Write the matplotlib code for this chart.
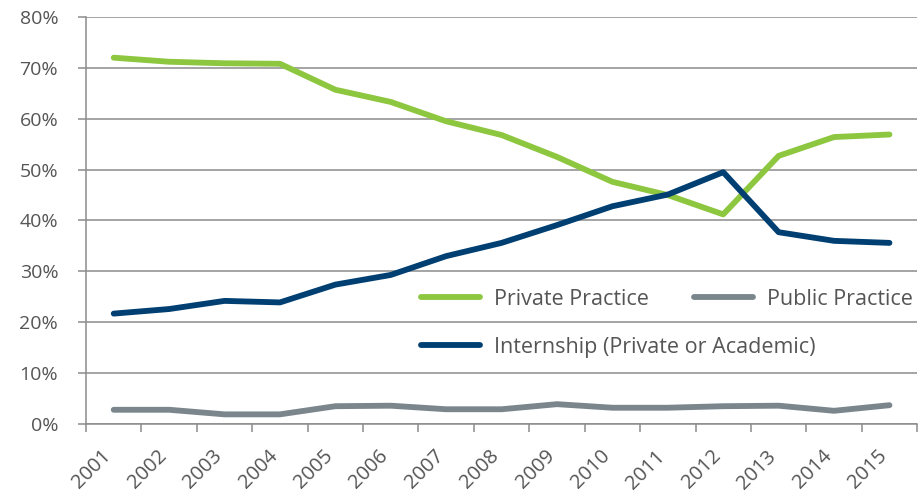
import matplotlib.pyplot as plt
import matplotlib.transforms as mtransforms
import numpy as np

plt.rcParams['font.family'] = ['Open Sans', 'DejaVu Sans']

years = ['2001', '2002', '2003', '2004', '2005', '2006', '2007', '2008',
         '2009', '2010', '2011', '2012', '2013', '2014', '2015']
private_practice = [72.0, 71.2, 70.9, 70.8, 65.7, 63.3, 59.5, 56.8,
                    52.5, 47.6, 45.0, 41.2, 52.7, 56.4, 56.9]
public_practice = [2.8, 2.8, 1.9, 1.9, 3.5, 3.6, 2.9, 2.9,
                   3.9, 3.2, 3.2, 3.5, 3.6, 2.6, 3.7]
internship = [21.7, 22.6, 24.2, 23.9, 27.4, 29.3, 33.0, 35.6,
              39.1, 42.8, 45.1, 49.5, 37.7, 36.0, 35.6]

green = '#8dc63f'
grey = '#7a868c'
navy = '#003f72'
axis_grey = '#8c8c8c'
text_grey = '#555555'

fig = plt.figure(figsize=(9.19, 4.95), dpi=100)
ax = fig.add_axes([0.0936, 0.1434, 0.9044, 0.8223])

x = np.arange(len(years))
style = dict(lw=4.2, solid_capstyle='round', solid_joinstyle='round')
l_priv, = ax.plot(x, private_practice, color=green, label='Private Practice', **style)
l_int, = ax.plot(x, internship, color=navy,
                 label='Internship (Private or Academic)', **style)
l_pub, = ax.plot(x, public_practice, color=grey, label='Public Practice', **style)

ax.set_xlim(-0.5, len(years) - 0.5)
ax.set_ylim(0, 80)

# y axis: percent labels, grid lines
ax.set_yticks(range(0, 81, 10))
ax.set_yticklabels([f'{v}%' for v in range(0, 81, 10)])
ax.yaxis.grid(True, color=axis_grey, lw=1.1)
ax.set_axisbelow(True)

# x axis: ticks between categories, labels at the centres
ax.set_xticks(np.arange(-0.5, len(years), 1.0))
ax.set_xticklabels([])
ax.set_xticks(x, minor=True)
ax.set_xticklabels(years, minor=True, rotation=45, ha='right',
                   va='top', rotation_mode='anchor')
ax.tick_params(axis='x', which='major', length=6, width=1.1, color=axis_grey)
ax.tick_params(axis='x', which='minor', length=0, pad=16,
               labelsize=14.5, labelcolor=text_grey)
ax.tick_params(axis='y', length=6, width=1.1, color=axis_grey,
               labelsize=14, labelcolor=text_grey, pad=14)
shift = mtransforms.ScaledTranslation(-9 / 72, 0, fig.dpi_scale_trans)
for lbl in ax.get_xticklabels(minor=True):
    lbl.set_transform(lbl.get_transform() + shift)

for side in ['top', 'right']:
    ax.spines[side].set_visible(False)
for side in ['left', 'bottom']:
    ax.spines[side].set_color(axis_grey)
    ax.spines[side].set_linewidth(1.1)

# legend: two entries on the first row, the long one alone below
leg_opts = dict(loc='center left', frameon=False, fontsize=15.5,
                handlelength=2.75, handletextpad=0.65, borderpad=0,
                borderaxespad=0, labelcolor=text_grey)
leg1 = ax.legend([l_priv, l_pub], ['Private Practice', 'Public Practice'],
                 ncol=2, columnspacing=2.1, bbox_to_anchor=(0.403, 0.306),
                 **leg_opts)
ax.add_artist(leg1)
ax.legend([l_int], ['Internship (Private or Academic)'],
          bbox_to_anchor=(0.403, 0.188), **leg_opts)

fig.savefig('out.png', dpi=100)
